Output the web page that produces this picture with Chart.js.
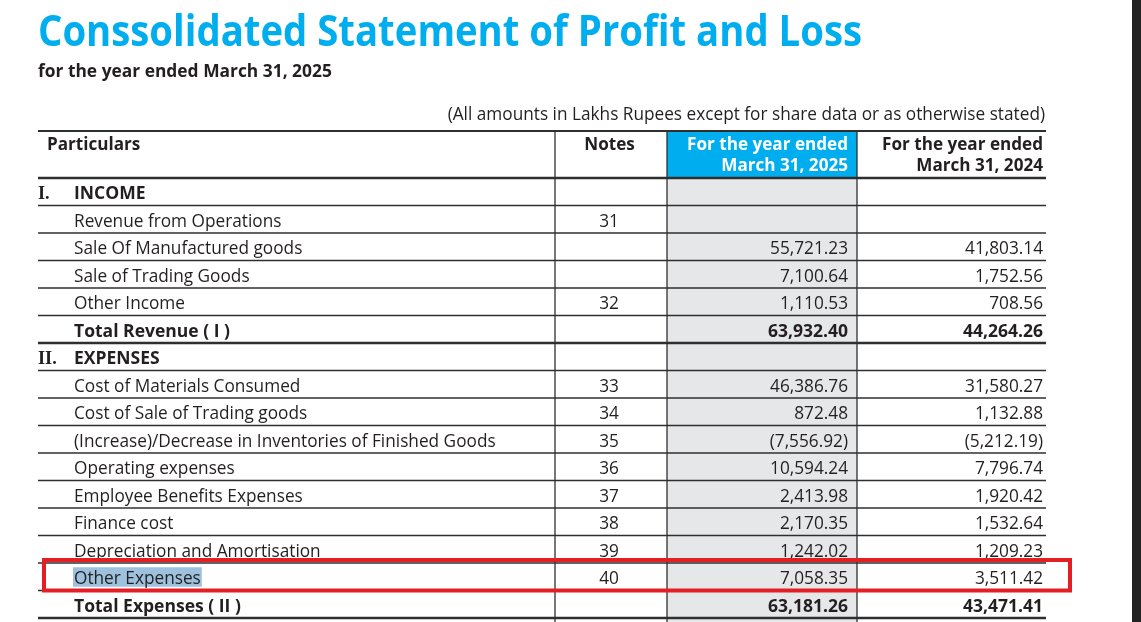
<!DOCTYPE html>
<html>
<head>
<meta charset="utf-8">
<script src="https://cdn.jsdelivr.net/npm/chart.js@4.4.1/dist/chart.umd.min.js"></script>
<style>
  html, body { margin: 0; padding: 0; background: #fff; overflow: hidden; }
  body { width: 1141px; height: 622px; position: relative; font-family: 'Open Sans', sans-serif; color: #231f20; }
  #wrap { position: absolute; left: 0; top: 0; width: 1141px; height: 622px; }
  .txt { position: absolute; white-space: nowrap; line-height: 1; margin: 0; }
  #title { left: 38px; color: #00aeef; font-weight: 700; transform-origin: 0 0; }
  #subtitle { left: 38px; font-weight: 700; }
  #note { right: 96px; font-weight: 400; }
  #scrollbar { position: absolute; left: 1132px; top: 0; width: 9px; height: 622px; background: #232323; }
</style>
</head>
<body>
<div id="wrap"><canvas id="plChart" width="1141" height="622"></canvas></div>
<h1 id="title" class="txt">Conssolidated Statement of Profit and Loss</h1>
<div id="subtitle" class="txt">for the year ended March 31, 2025</div>
<div id="note" class="txt">(All amounts in Lakhs Rupees except for share data or as otherwise stated)</div>
<div id="scrollbar"></div>
<script>
// rows of the statement
const rowLabels = [
  'INCOME',
  'Revenue from Operations',
  'Sale Of Manufactured goods',
  'Sale of Trading Goods',
  'Other Income',
  'Total Revenue ( I )',
  'EXPENSES',
  'Cost of Materials Consumed',
  'Cost of Sale of Trading goods',
  '(Increase)/Decrease in Inventories of Finished Goods',
  'Operating expenses',
  'Employee Benefits Expenses',
  'Finance cost',
  'Depreciation and Amortisation',
  'Other Expenses',
  'Total Expenses ( II )'
];
const sectionNumbers = ['I.', '', '', '', '', '', 'II.', '', '', '', '', '', '', '', '', ''];
const noteRefs = ['', '31', '', '', '32', '', '', '33', '34', '35', '36', '37', '38', '39', '40', ''];
const fy2025 = [null, null, 55721.23, 7100.64, 1110.53, 63932.40, null, 46386.76, 872.48, -7556.92, 10594.24, 2413.98, 2170.35, 1242.02, 7058.35, 63181.26];
const fy2024 = [null, null, 41803.14, 1752.56, 708.56, 44264.26, null, 31580.27, 1132.88, -5212.19, 7796.74, 1920.42, 1532.64, 1209.23, 3511.42, 43471.41];
const boldRows = [0, 5, 6, 15];
const totalRows = [5, 15];
const highlightRow = 14;

// column headings
const headParticulars = 'Particulars';
const headNotes = 'Notes';
const head2025 = ['For the year ended', 'March 31, 2025'];
const head2024 = ['For the year ended', 'March 31, 2024'];

// column edges in table units (0 = left edge of the table)
const colEdges = [0, 517, 629, 819, 1008];

const FONT = "'Open Sans', sans-serif";
const INK = '#231f20';
const CYAN = '#00aeef';

// measure helper: font size that makes a sample string a given width
const mctx = document.createElement('canvas').getContext('2d');
function fitSize(weight, family, sample, targetW) {
  mctx.font = weight + ' 100px ' + family;
  return 100 * targetW / mctx.measureText(sample).width;
}

const bodySize = fitSize(400, FONT, rowLabels[9], 422);
const boldSize = fitSize(700, FONT, rowLabels[15], 167);
const headSize = fitSize(700, FONT, head2025[0], 161);

// html headings, placed by their baseline
function place(id, weight, targetW, baseline) {
  const el = document.getElementById(id);
  const size = fitSize(weight, FONT, el.textContent, targetW);
  el.style.fontSize = size + 'px';
  el.style.top = (baseline - 0.888 * size) + 'px';
}
place('subtitle', 700, 294, 77);
place('note', 400, 598, 120);

// the title is taller than a width fit gives, so squeeze it sideways
(function () {
  const el = document.getElementById('title');
  const size = 43.5;
  mctx.font = '700 ' + size + 'px ' + FONT;
  const k = 824 / mctx.measureText(el.textContent).width;
  el.style.fontSize = size + 'px';
  el.style.top = (46.5 - 0.888 * size) + 'px';
  el.style.transform = 'scaleX(' + k + ')';
})();

function fmt(v) {
  if (v === null || v === undefined) return '';
  const s = Math.abs(v).toLocaleString('en-US', { minimumFractionDigits: 2, maximumFractionDigits: 2 });
  return v < 0 ? '(' + s + ')' : s;
}

const tablePlugin = {
  id: 'statementTable',
  beforeDatasetsDraw(chart) {
    const { ctx, chartArea, scales: { x, y } } = chart;
    const step = y.getPixelForValue(1) - y.getPixelForValue(0);
    const xe = colEdges.map(v => x.getPixelForValue(v));
    const headTop = chartArea.top - 47;
    const bottom = chart.height;

    ctx.save();
    // shaded current-year column
    ctx.fillStyle = '#e6e7e8';
    ctx.fillRect(xe[2], chartArea.top, xe[3] - xe[2], bottom - chartArea.top);
    // cyan heading cell
    ctx.fillStyle = CYAN;
    ctx.fillRect(xe[2], headTop + 1, xe[3] - xe[2], 46);

    // selection highlight on the flagged label
    ctx.font = '400 ' + bodySize + 'px ' + FONT;
    const hy = y.getPixelForValue(highlightRow);
    const hw = ctx.measureText(rowLabels[highlightRow]).width;
    ctx.fillStyle = '#9ec2de';
    ctx.fillRect(xe[0] + 35, hy - 9.5, hw + 2, 19.5);

    // horizontal rules
    ctx.strokeStyle = '#2f2f2f';
    const hline = (py, lw) => {
      ctx.lineWidth = lw;
      ctx.beginPath();
      ctx.moveTo(xe[0], py);
      ctx.lineTo(xe[4], py);
      ctx.stroke();
    };
    hline(headTop, 2);
    hline(chartArea.top, 2.5);
    for (let i = 0; i < rowLabels.length; i++) {
      const py = y.getPixelForValue(i) + step / 2;
      hline(py, totalRows.includes(i) ? 2.4 : 1.3);
    }
    // vertical rules
    ctx.lineWidth = 1.3;
    [xe[1], xe[2], xe[3]].forEach(px => {
      ctx.beginPath();
      ctx.moveTo(px, headTop);
      ctx.lineTo(px, bottom);
      ctx.stroke();
    });

    // heading text
    ctx.font = '700 ' + headSize + 'px ' + FONT;
    ctx.fillStyle = INK;
    ctx.textAlign = 'left';
    ctx.fillText(headParticulars, xe[0] + 9, headTop + 19);
    ctx.textAlign = 'center';
    ctx.fillText(headNotes, (xe[1] + xe[2]) / 2 - 1.5, headTop + 19);
    ctx.textAlign = 'right';
    ctx.fillStyle = '#ffffff';
    ctx.fillText(head2025[0], xe[3] - 9, headTop + 19);
    ctx.fillText(head2025[1], xe[3] - 9, headTop + 40);
    ctx.fillStyle = INK;
    ctx.fillText(head2024[0], xe[4] - 3, headTop + 19);
    ctx.fillText(head2024[1], xe[4] - 3, headTop + 40);

    // body rows
    const cols = chart.data.datasets;
    rowLabels.forEach((label, i) => {
      const base = y.getPixelForValue(i) + 7.5;
      const bold = boldRows.includes(i);
      const font = bold ? '700 ' + boldSize + 'px ' + FONT : '400 ' + bodySize + 'px ' + FONT;
      ctx.fillStyle = INK;
      if (sectionNumbers[i]) {
        ctx.font = '700 ' + (bodySize + 1) + "px 'Liberation Serif', serif";
        ctx.textAlign = 'left';
        ctx.fillText(sectionNumbers[i], xe[0], base);
      }
      ctx.font = font;
      ctx.textAlign = 'left';
      ctx.fillText(label, xe[0] + 36, base);
      ctx.font = '400 ' + bodySize + 'px ' + FONT;
      ctx.textAlign = 'center';
      ctx.fillText(noteRefs[i], (xe[1] + xe[2]) / 2 - 2, base);
      ctx.font = font;
      ctx.textAlign = 'right';
      ctx.fillText(fmt(cols[0].data[i]), xe[3] - 9, base);
      ctx.fillText(fmt(cols[1].data[i]), xe[4] - 3, base);
    });

    // red marker box around the flagged row
    const top = y.getPixelForValue(highlightRow) - step / 2 - 3;
    ctx.strokeStyle = '#e31e24';
    ctx.lineWidth = 4;
    ctx.strokeRect(xe[0] + 6, top, xe[4] + 24 - (xe[0] + 6), step + 3);
    ctx.restore();
  }
};

new Chart(document.getElementById('plChart'), {
  type: 'bar',
  data: {
    labels: rowLabels,
    datasets: [
      { label: 'For the year ended March 31, 2025', data: fy2025, hidden: true },
      { label: 'For the year ended March 31, 2024', data: fy2024, hidden: true }
    ]
  },
  options: {
    indexAxis: 'y',
    responsive: false,
    animation: false,
    layout: { padding: { left: 38, right: 95, top: 178, bottom: 4 } },
    plugins: { legend: { display: false }, tooltip: { enabled: false } },
    scales: {
      y: { type: 'category', offset: true, display: false },
      x: { type: 'linear', min: 0, max: 1008, display: false }
    }
  },
  plugins: [tablePlugin]
});
</script>
</body>
</html>
